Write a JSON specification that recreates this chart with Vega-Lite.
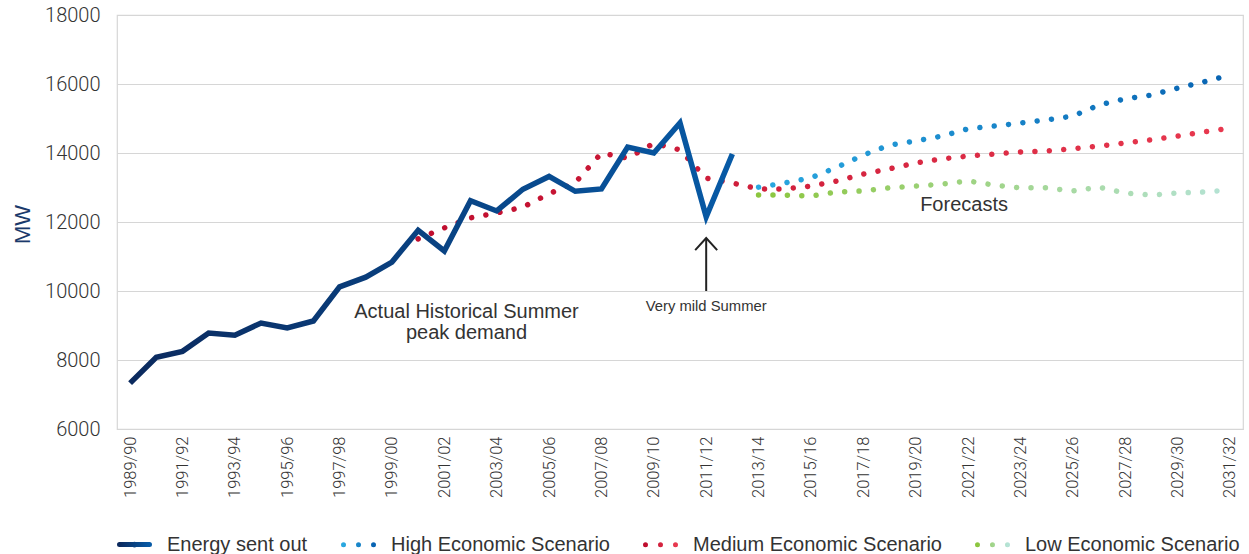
{
  "$schema": "https://vega.github.io/schema/vega-lite/v6.json",
  "width": 1126,
  "height": 414,
  "autosize": "none",
  "padding": {"left": 117, "top": 15, "right": 6, "bottom": 125},
  "background": "white",
  "config": {
    "view": {"stroke": "#d6d6d6", "strokeWidth": 1.2},
    "font": "Liberation Sans",
    "axis": {"labelFont": "Liberation Sans", "titleFont": "Liberation Sans"},
    "legend": {"labelFont": "Liberation Sans"}
  },
  "datasets": {
    "energy": [
      {"period": "1989/90", "series": "Energy sent out", "mw": 7330},
      {"period": "1990/91", "series": "Energy sent out", "mw": 8080},
      {"period": "1991/92", "series": "Energy sent out", "mw": 8250},
      {"period": "1992/93", "series": "Energy sent out", "mw": 8780},
      {"period": "1993/94", "series": "Energy sent out", "mw": 8720},
      {"period": "1994/95", "series": "Energy sent out", "mw": 9070},
      {"period": "1995/96", "series": "Energy sent out", "mw": 8930},
      {"period": "1996/97", "series": "Energy sent out", "mw": 9130},
      {"period": "1997/98", "series": "Energy sent out", "mw": 10120},
      {"period": "1998/99", "series": "Energy sent out", "mw": 10400},
      {"period": "1999/00", "series": "Energy sent out", "mw": 10840},
      {"period": "2000/01", "series": "Energy sent out", "mw": 11760},
      {"period": "2001/02", "series": "Energy sent out", "mw": 11160},
      {"period": "2002/03", "series": "Energy sent out", "mw": 12620},
      {"period": "2003/04", "series": "Energy sent out", "mw": 12320},
      {"period": "2004/05", "series": "Energy sent out", "mw": 12950},
      {"period": "2005/06", "series": "Energy sent out", "mw": 13320},
      {"period": "2006/07", "series": "Energy sent out", "mw": 12890},
      {"period": "2007/08", "series": "Energy sent out", "mw": 12960},
      {"period": "2008/09", "series": "Energy sent out", "mw": 14170},
      {"period": "2009/10", "series": "Energy sent out", "mw": 14000},
      {"period": "2010/11", "series": "Energy sent out", "mw": 14870},
      {"period": "2011/12", "series": "Energy sent out", "mw": 12150},
      {"period": "2012/13", "series": "Energy sent out", "mw": 13970}
    ],
    "scen": [
      {"period": "2000/01", "series": "Medium Economic Scenario", "mw": 11510},
      {"period": "2001/02", "series": "Medium Economic Scenario", "mw": 11830},
      {"period": "2002/03", "series": "Medium Economic Scenario", "mw": 12120},
      {"period": "2003/04", "series": "Medium Economic Scenario", "mw": 12260},
      {"period": "2004/05", "series": "Medium Economic Scenario", "mw": 12430},
      {"period": "2005/06", "series": "Medium Economic Scenario", "mw": 12820},
      {"period": "2006/07", "series": "Medium Economic Scenario", "mw": 13140},
      {"period": "2007/08", "series": "Medium Economic Scenario", "mw": 14000},
      {"period": "2008/09", "series": "Medium Economic Scenario", "mw": 13850},
      {"period": "2009/10", "series": "Medium Economic Scenario", "mw": 14280},
      {"period": "2010/11", "series": "Medium Economic Scenario", "mw": 14090},
      {"period": "2011/12", "series": "Medium Economic Scenario", "mw": 13270},
      {"period": "2012/13", "series": "Medium Economic Scenario", "mw": 13130},
      {"period": "2013/14", "series": "Medium Economic Scenario", "mw": 12960},
      {"period": "2014/15", "series": "Medium Economic Scenario", "mw": 12960},
      {"period": "2015/16", "series": "Medium Economic Scenario", "mw": 13040},
      {"period": "2016/17", "series": "Medium Economic Scenario", "mw": 13190},
      {"period": "2017/18", "series": "Medium Economic Scenario", "mw": 13390},
      {"period": "2018/19", "series": "Medium Economic Scenario", "mw": 13540},
      {"period": "2019/20", "series": "Medium Economic Scenario", "mw": 13710},
      {"period": "2020/21", "series": "Medium Economic Scenario", "mw": 13830},
      {"period": "2021/22", "series": "Medium Economic Scenario", "mw": 13910},
      {"period": "2022/23", "series": "Medium Economic Scenario", "mw": 13970},
      {"period": "2023/24", "series": "Medium Economic Scenario", "mw": 14030},
      {"period": "2024/25", "series": "Medium Economic Scenario", "mw": 14060},
      {"period": "2025/26", "series": "Medium Economic Scenario", "mw": 14120},
      {"period": "2026/27", "series": "Medium Economic Scenario", "mw": 14200},
      {"period": "2027/28", "series": "Medium Economic Scenario", "mw": 14290},
      {"period": "2028/29", "series": "Medium Economic Scenario", "mw": 14380},
      {"period": "2029/30", "series": "Medium Economic Scenario", "mw": 14490},
      {"period": "2030/31", "series": "Medium Economic Scenario", "mw": 14610},
      {"period": "2031/32", "series": "Medium Economic Scenario", "mw": 14720},
      {"period": "2013/14", "series": "High Economic Scenario", "mw": 13010},
      {"period": "2014/15", "series": "High Economic Scenario", "mw": 13130},
      {"period": "2015/16", "series": "High Economic Scenario", "mw": 13280},
      {"period": "2016/17", "series": "High Economic Scenario", "mw": 13590},
      {"period": "2017/18", "series": "High Economic Scenario", "mw": 13940},
      {"period": "2018/19", "series": "High Economic Scenario", "mw": 14230},
      {"period": "2019/20", "series": "High Economic Scenario", "mw": 14350},
      {"period": "2020/21", "series": "High Economic Scenario", "mw": 14490},
      {"period": "2021/22", "series": "High Economic Scenario", "mw": 14700},
      {"period": "2022/23", "series": "High Economic Scenario", "mw": 14780},
      {"period": "2023/24", "series": "High Economic Scenario", "mw": 14870},
      {"period": "2024/25", "series": "High Economic Scenario", "mw": 14960},
      {"period": "2025/26", "series": "High Economic Scenario", "mw": 15070},
      {"period": "2026/27", "series": "High Economic Scenario", "mw": 15390},
      {"period": "2027/28", "series": "High Economic Scenario", "mw": 15570},
      {"period": "2028/29", "series": "High Economic Scenario", "mw": 15680},
      {"period": "2029/30", "series": "High Economic Scenario", "mw": 15880},
      {"period": "2030/31", "series": "High Economic Scenario", "mw": 16060},
      {"period": "2031/32", "series": "High Economic Scenario", "mw": 16260},
      {"period": "2013/14", "series": "Low Economic Scenario", "mw": 12780},
      {"period": "2014/15", "series": "Low Economic Scenario", "mw": 12780},
      {"period": "2015/16", "series": "Low Economic Scenario", "mw": 12750},
      {"period": "2016/17", "series": "Low Economic Scenario", "mw": 12870},
      {"period": "2017/18", "series": "Low Economic Scenario", "mw": 12900},
      {"period": "2018/19", "series": "Low Economic Scenario", "mw": 12990},
      {"period": "2019/20", "series": "Low Economic Scenario", "mw": 13040},
      {"period": "2020/21", "series": "Low Economic Scenario", "mw": 13100},
      {"period": "2021/22", "series": "Low Economic Scenario", "mw": 13190},
      {"period": "2022/23", "series": "Low Economic Scenario", "mw": 13070},
      {"period": "2023/24", "series": "Low Economic Scenario", "mw": 12990},
      {"period": "2024/25", "series": "Low Economic Scenario", "mw": 12990},
      {"period": "2025/26", "series": "Low Economic Scenario", "mw": 12900},
      {"period": "2026/27", "series": "Low Economic Scenario", "mw": 13010},
      {"period": "2027/28", "series": "Low Economic Scenario", "mw": 12840},
      {"period": "2028/29", "series": "Low Economic Scenario", "mw": 12780},
      {"period": "2029/30", "series": "Low Economic Scenario", "mw": 12840},
      {"period": "2030/31", "series": "Low Economic Scenario", "mw": 12870},
      {"period": "2031/32", "series": "Low Economic Scenario", "mw": 12930}
    ],
    "bignotes": [
      {"period": "2002/03", "mw": 9391, "note": "Actual Historical Summer"},
      {"period": "2002/03", "mw": 8783, "note": "peak demand"},
      {"period": "2021/22", "mw": 12493, "note": "Forecasts"}
    ],
    "smallnotes": [
      {"period": "2011/12", "mw": 9536, "note": "Very mild Summer"}
    ],
    "arrow": [
      {"period": "2011/12", "mw": 11536, "mw2": 10000}
    ]
  },
  "encoding": {
    "x": {
      "field": "period",
      "type": "ordinal",
      "scale": {
        "type": "point",
        "padding": 0.5,
        "domain": ["1989/90","1990/91","1991/92","1992/93","1993/94","1994/95","1995/96","1996/97","1997/98","1998/99","1999/00","2000/01","2001/02","2002/03","2003/04","2004/05","2005/06","2006/07","2007/08","2008/09","2009/10","2010/11","2011/12","2012/13","2013/14","2014/15","2015/16","2016/17","2017/18","2018/19","2019/20","2020/21","2021/22","2022/23","2023/24","2024/25","2025/26","2026/27","2027/28","2028/29","2029/30","2030/31","2031/32"]
      },
      "axis": {
        "title": null,
        "values": ["1989/90","1991/92","1993/94","1995/96","1997/98","1999/00","2001/02","2003/04","2005/06","2007/08","2009/10","2011/12","2013/14","2015/16","2017/18","2019/20","2021/22","2023/24","2025/26","2027/28","2029/30","2031/32"],
        "labelAngle": 270,
        "labelAlign": "right",
        "labelBaseline": "middle",
        "labelBound": false,
        "labelFlush": false,
        "labelOverlap": false,
        "labelFont": "Roboto",
        "labelFontWeight": 300,
        "labelFontSize": 16.5,
        "labelColor": "#333333",
        "labelPadding": 7,
        "ticks": false,
        "domain": false,
        "grid": false
      }
    },
    "y": {
      "field": "mw",
      "type": "quantitative",
      "scale": {"domain": [6000, 18000], "nice": false, "zero": false},
      "axis": {
        "title": "MW",
        "format": "d",
        "values": [6000, 8000, 10000, 12000, 14000, 16000, 18000],
        "domain": false,
        "ticks": false,
        "grid": true,
        "gridColor": "#d6d6d6",
        "gridWidth": 1.2,
        "labelFont": "Roboto",
        "labelFontWeight": 300,
        "labelFontSize": 20,
        "labelColor": "#333333",
        "labelPadding": 17,
        "titleFontSize": 22,
        "titleFontWeight": "normal",
        "titleColor": "#1b3a6b",
        "titleX": -95,
        "titleY": 209,
        "titleAngle": 270,
        "titleAlign": "center",
        "titleBaseline": "middle"
      }
    }
  },
  "layer": [
    {
      "data": {"name": "scen"},
      "mark": {"type": "line", "strokeWidth": 5.5, "strokeCap": "round", "strokeDash": [0.01, 14.4]},
      "encoding": {
        "color": {
          "field": "series",
          "type": "nominal",
          "scale": {
            "domain": ["Energy sent out", "High Economic Scenario", "Medium Economic Scenario", "Low Economic Scenario"],
            "range": [
              {"expr": "{gradient: 'linear', x1: 0, y1: 0, x2: 1, y2: 0, stops: [{offset: 0, color: '#0b2a5e'}, {offset: 1, color: '#075aa6'}]}"},
              {"expr": "{gradient: 'linear', x1: 0, y1: 0, x2: 1, y2: 0, stops: [{offset: 0, color: '#2aa8e0'}, {offset: 1, color: '#0863b2'}]}"},
              {"expr": "{gradient: 'linear', x1: 0, y1: 0, x2: 1, y2: 0, stops: [{offset: 0, color: '#bf0d2e'}, {offset: 1, color: '#e8394f'}]}"},
              {"expr": "{gradient: 'linear', x1: 0, y1: 0, x2: 1, y2: 0, stops: [{offset: 0, color: '#8cc63f'}, {offset: 1, color: '#b5e3d6'}]}"}
            ]
          },
          "legend": {
            "title": null,
            "orient": "none",
            "legendX": 0,
            "legendY": 512,
            "direction": "horizontal",
            "labelFontSize": 20,
            "labelColor": "#333333",
            "labelLimit": 0,
            "symbolSize": 900,
            "symbolStrokeWidth": 5,
            "symbolType": "M-1,0L-1,0.01M0,0L0,0.01M1,0L1,0.01",
            "labelOffset": 15,
            "columnPadding": 25,
            "encoding": {
              "symbols": {
                "shape": {"value": {"expr": "datum.value === 'Energy sent out' ? 'M-1,0L1,0M0,-0.02L0,0.02' : 'M-1,0L-1,0.01M0,0L0,0.01M1,0L1,0.01'"}},
                "strokeCap": {"value": "round"},
                "strokeDash": {"value": [1, 0]}
              }
            }
          }
        }
      }
    },
    {
      "data": {"name": "energy"},
      "mark": {"type": "line", "strokeWidth": 5.5, "strokeJoin": "miter"},
      "encoding": {
        "color": {"field": "series", "type": "nominal"}
      }
    },
    {
      "data": {"name": "bignotes"},
      "mark": {"type": "text", "fontSize": 20, "color": "#333333", "font": "Liberation Sans", "align": "center", "baseline": "middle", "dx": -4},
      "encoding": {"text": {"field": "note"}}
    },
    {
      "data": {"name": "smallnotes"},
      "mark": {"type": "text", "fontSize": 14.8, "color": "#333333", "font": "Liberation Sans", "align": "center", "baseline": "middle"},
      "encoding": {"text": {"field": "note"}}
    },
    {
      "data": {"name": "arrow"},
      "mark": {"type": "rule", "strokeWidth": 2, "color": "#222222"},
      "encoding": {"y2": {"field": "mw2"}}
    },
    {
      "data": {"name": "arrow"},
      "mark": {"type": "point", "shape": "M-1,1.1L0,0L1,1.1", "size": 484, "filled": false, "stroke": "#222222", "strokeWidth": 2, "opacity": 1},
      "encoding": {}
    }
  ]
}
